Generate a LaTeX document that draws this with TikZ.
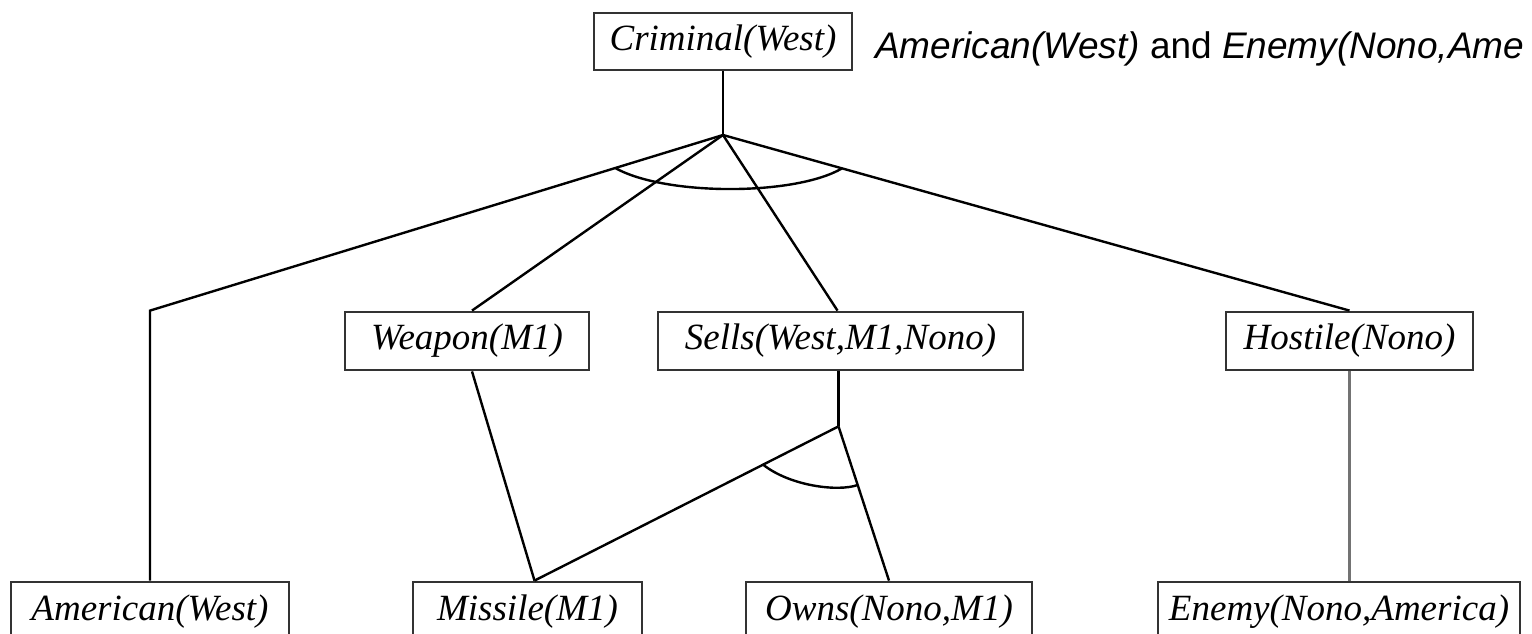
\documentclass[tikz,border=0pt]{standalone}
\usepackage{fontspec}
\setmainfont{Liberation Serif}
\newfontfamily\arialfont{Liberation Sans}
\usetikzlibrary{calc}
\begin{document}
\begin{tikzpicture}[x=1pt,y=-1pt,
  box/.style={draw=black!80, line width=2.8pt, inner sep=0pt, fill=white,
    font=\fontsize{37}{42}\selectfont\itshape},
  link/.style={black, line width=2.4pt},
  glink/.style={black!55, line width=3.2pt}]
\useasboundingbox (0,0) rectangle (1532,634);
% boxes
\node[box, minimum width=258pt, minimum height=57pt] (crim) at (723,41.5) {Criminal(West)};
\node[box, minimum width=244pt, minimum height=58pt] (weapon) at (467,341) {Weapon(M1)};
\node[box, minimum width=365pt, minimum height=58pt] (sells) at (840.5,341) {Sells(West,M1,Nono)};
\node[box, minimum width=247pt, minimum height=58pt] (hostile) at (1349.5,341) {Hostile(Nono)};
\node[box, minimum width=278pt, minimum height=60pt] (american) at (150,612) {American(West)};
\node[box, minimum width=229pt, minimum height=60pt] (missile) at (527.5,612) {Missile(M1)};
\node[box, minimum width=286pt, minimum height=60pt] (owns) at (889,612) {Owns(Nono,M1)};
\node[box, minimum width=362pt, minimum height=60pt] (enemy) at (1339,612) {Enemy(Nono,America)};
% note text
\node[anchor=west, inner sep=0pt, font=\arialfont\fontsize{37}{42}\selectfont] (note) at (875,49)
  {\textit{American(West)} and \textit{Enemy(Nono,Ame}};
% coordinates
\coordinate (A) at (723,135);
\coordinate (K1) at ($(american.north)+(0,-270)$);
\coordinate (B) at ($(sells.south)+(-2,55)$);
\coordinate (M) at ($(missile.north)+(7,0)$);
% connectors
\draw[link] (crim.south) -- (A);
\draw[link] (A) -- (K1) -- (american.north);
\draw[link] (A) -- ($(weapon.north)+(5,0)$);
\draw[link] (A) -- ($(sells.north)+(-3,0)$);
\draw[link] (A) -- (hostile.north);
\draw[link] ($(weapon.south)+(5,0)$) -- (M);
\draw[link] (sells.south -| B) -- (B);
\draw[link] (B) -- (M);
\draw[link] (B) -- (owns.north);
\draw[glink] (hostile.south) -- (hostile.south |- enemy.north);
% AND arcs
\draw[link] ($(A)!0.188!(K1)$) .. controls (665,196) and (795,196) .. ($(A)!0.19!(hostile.north)$);
\draw[link] ($(B)!0.248!(M)$) .. controls (790,486) and (838,492) .. ($(B)!0.38!(owns.north)$);
\end{tikzpicture}
\end{document}
